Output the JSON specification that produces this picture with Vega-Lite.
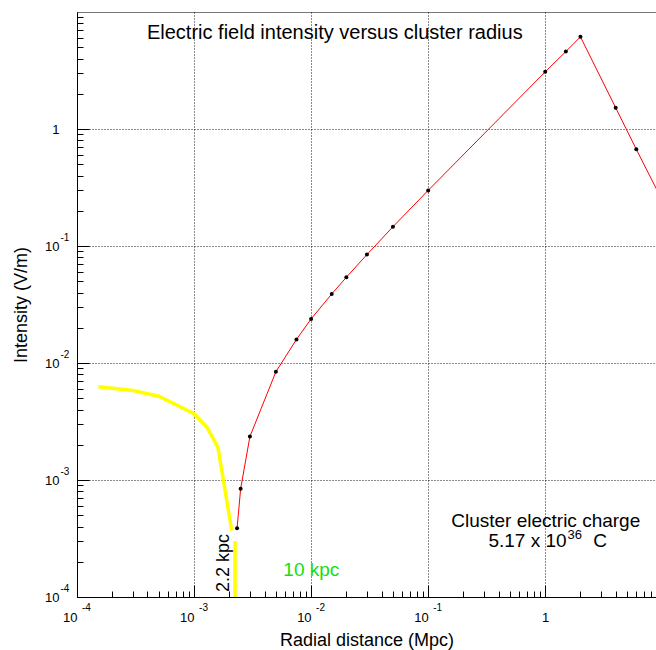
{
  "$schema": "https://vega.github.io/schema/vega-lite/v6.json",
  "autosize": {"type": "none"},
  "padding": {"left": 77, "top": 12, "right": 0, "bottom": 53},
  "width": 579,
  "height": 585,
  "background": "white",
  "config": {
    "view": {"stroke": "#777", "strokeWidth": 1},
    "font": "Liberation Sans",
    "axis": {"labelFont": "Liberation Sans", "titleFont": "Liberation Sans"}
  },
  "resolve": {"axis": {"x": "independent", "y": "independent"}},
  "datasets": {
    "red": [
      {"x": 0.00233, "y": 0.000386},
      {"x": 0.0025, "y": 0.00084},
      {"x": 0.003, "y": 0.00235},
      {"x": 0.005, "y": 0.0084},
      {"x": 0.0075, "y": 0.0159},
      {"x": 0.01, "y": 0.0238},
      {"x": 0.015, "y": 0.0389},
      {"x": 0.02, "y": 0.054},
      {"x": 0.03, "y": 0.0845},
      {"x": 0.05, "y": 0.146},
      {"x": 0.1, "y": 0.2986},
      {"x": 1, "y": 3.08},
      {"x": 1.5, "y": 4.59},
      {"x": 2, "y": 6.13},
      {"x": 4, "y": 1.52},
      {"x": 6, "y": 0.67},
      {"x": 10, "y": 0.245}
    ],
    "yellow": [
      {"x": 0.000152, "y": 0.00627},
      {"x": 0.0003, "y": 0.00582},
      {"x": 0.0005, "y": 0.0052},
      {"x": 0.001, "y": 0.00368},
      {"x": 0.0013, "y": 0.00279},
      {"x": 0.0016, "y": 0.0019},
      {"x": 0.0021, "y": 0.00037}
    ],
    "rule": [
      {"x": 0.00224, "y": 0.0001, "y2": 0.000301}
    ],
    "xexp": [
      {"x": 0.0001, "y": 0.0001, "e": "-4"},
      {"x": 0.001, "y": 0.0001, "e": "-3"},
      {"x": 0.01, "y": 0.0001, "e": "-2"},
      {"x": 0.1, "y": 0.0001, "e": "-1"}
    ],
    "yexp": [
      {"x": 0.0001, "y": 0.0001, "e": "-4"},
      {"x": 0.0001, "y": 0.001, "e": "-3"},
      {"x": 0.0001, "y": 0.01, "e": "-2"},
      {"x": 0.0001, "y": 0.1, "e": "-1"}
    ],
    "labels": [
      {"id": "title", "x": 0.01594, "y": 6.61, "text": "Electric field intensity versus cluster radius"},
      {"id": "charge1", "x": 1.01, "y": 0.000399, "text": "Cluster electric charge"},
      {"id": "charge2a", "x": 1, "y": 0.000269, "text": "5.17 x 10"},
      {"id": "charge2b", "x": 1, "y": 0.000269, "text": "36"},
      {"id": "charge2c", "x": 1, "y": 0.000269, "text": "C"},
      {"id": "kpc22", "x": 0.001795, "y": 0.000195, "text": "2.2 kpc"},
      {"id": "kpc10", "x": 0.01004, "y": 0.00017, "text": "10 kpc"}
    ]
  },
  "encoding": {
    "x": {"field": "x", "type": "quantitative", "scale": {"type": "log", "domain": [0.0001, 8.84]}, "axis": null},
    "y": {"field": "y", "type": "quantitative", "scale": {"type": "log", "domain": [0.0001, 10]}, "axis": null}
  },
  "layer": [
    {
      "data": {"name": "yellow"},
      "mark": {"type": "line", "color": "#ffff00", "strokeWidth": 3.5, "clip": true},
      "encoding": {
        "order": {"field": "x"},
        "x": {
          "field": "x", "type": "quantitative",
          "scale": {"type": "log", "domain": [0.0001, 8.84]},
          "axis": {
            "orient": "bottom",
            "title": "Radial distance (Mpc)",
            "titleFontSize": 18,
            "titleFontWeight": "normal",
            "titleColor": "black",
            "titlePadding": 7,
            "values": [0.0001, 0.001, 0.01, 0.1, 1],
            "labelExpr": "datum.value > 0.5 ? '1' : '10'",
            "labelFontSize": 13,
            "labelColor": "black",
            "labelOverlap": false,
            "labelFlush": false,
            "labelAlign": {"condition": {"test": "datum.value > 0.5", "value": "center"}, "value": "right"},
            "labelBaseline": "top",
            "labelPadding": 26,
            "tickColor": "black",
            "tickSize": -12,
            "domainColor": "black",
            "grid": true,
            "gridColor": "black",
            "gridDash": [1, 2],
            "gridOpacity": 0.9
          }
        },
        "y": {
          "field": "y", "type": "quantitative",
          "scale": {"type": "log", "domain": [0.0001, 10]},
          "axis": {
            "orient": "left",
            "title": "Intensity (V/m)",
            "titleFontSize": 18,
            "titleFontWeight": "normal",
            "titleColor": "black",
            "titlePadding": 14,
            "values": [0.0001, 0.001, 0.01, 0.1, 1],
            "labelExpr": "datum.value > 0.5 ? '1' : '10'",
            "labelFontSize": 13,
            "labelColor": "black",
            "labelOverlap": false,
            "labelFlush": false,
            "labelPadding": 30,
            "tickColor": "black",
            "tickSize": -12,
            "domainColor": "black",
            "grid": true,
            "gridColor": "black",
            "gridDash": [1, 2],
            "gridOpacity": 0.9
          }
        }
      }
    },
    {
      "data": {"name": "rule"},
      "mark": {"type": "rule", "color": "#ffff00", "strokeWidth": 3.5},
      "encoding": {
        "y2": {"field": "y2"},
        "x": {
          "field": "x", "type": "quantitative",
          "scale": {"type": "log", "domain": [0.0001, 8.84]},
          "axis": {
            "orient": "bottom",
            "title": null,
            "labels": false,
            "domain": false,
            "grid": false,
            "values": [0.0002, 0.0003, 0.0004, 0.0005, 0.0006, 0.0007, 0.0008, 0.0009,
                       0.002, 0.003, 0.004, 0.005, 0.006, 0.007, 0.008, 0.009,
                       0.02, 0.03, 0.04, 0.05, 0.06, 0.07, 0.08, 0.09,
                       0.2, 0.3, 0.4, 0.5, 0.6, 0.7, 0.8, 0.9,
                       2, 3, 4, 5, 6, 7, 8],
            "tickColor": "black",
            "tickSize": -6
          }
        },
        "y": {
          "field": "y", "type": "quantitative",
          "scale": {"type": "log", "domain": [0.0001, 10]},
          "axis": {
            "orient": "left",
            "title": null,
            "labels": false,
            "domain": false,
            "grid": false,
            "values": [0.0002, 0.0003, 0.0004, 0.0005, 0.0006, 0.0007, 0.0008, 0.0009,
                       0.002, 0.003, 0.004, 0.005, 0.006, 0.007, 0.008, 0.009,
                       0.02, 0.03, 0.04, 0.05, 0.06, 0.07, 0.08, 0.09,
                       0.2, 0.3, 0.4, 0.5, 0.6, 0.7, 0.8, 0.9,
                       2, 3, 4, 5, 6, 7, 8, 9],
            "tickColor": "black",
            "tickSize": -6
          }
        }
      }
    },
    {
      "data": {"name": "red"},
      "mark": {"type": "line", "color": "#ff0000", "strokeWidth": 1, "clip": true},
      "encoding": {"order": {"field": "x"}}
    },
    {
      "data": {"name": "red"},
      "mark": {"type": "circle", "color": "black", "opacity": 1, "size": 16, "clip": true},
      "encoding": {}
    },
    {
      "data": {"name": "xexp"},
      "mark": {"type": "text", "fontSize": 10, "color": "black", "align": "left", "baseline": "middle", "dx": 5, "dy": 11},
      "encoding": {"text": {"field": "e"}}
    },
    {
      "data": {"name": "yexp"},
      "mark": {"type": "text", "fontSize": 10, "color": "black", "align": "left", "baseline": "middle", "dx": -16.5, "dy": -8.5},
      "encoding": {"text": {"field": "e"}}
    },
    {
      "data": {"name": "labels"},
      "transform": [{"filter": "datum.id == 'title'"}],
      "mark": {"type": "text", "fontSize": 20, "color": "black", "align": "center", "baseline": "middle"},
      "encoding": {"text": {"field": "text"}}
    },
    {
      "data": {"name": "labels"},
      "transform": [{"filter": "datum.id == 'charge1'"}],
      "mark": {"type": "text", "fontSize": 19, "color": "black", "align": "center", "baseline": "alphabetic"},
      "encoding": {"text": {"field": "text"}}
    },
    {
      "data": {"name": "labels"},
      "transform": [{"filter": "datum.id == 'charge2a'"}],
      "mark": {"type": "text", "fontSize": 19, "color": "black", "align": "right", "baseline": "alphabetic", "dx": 21.4},
      "encoding": {"text": {"field": "text"}}
    },
    {
      "data": {"name": "labels"},
      "transform": [{"filter": "datum.id == 'charge2b'"}],
      "mark": {"type": "text", "fontSize": 13, "color": "black", "align": "left", "baseline": "alphabetic", "dx": 22.2, "dy": -8},
      "encoding": {"text": {"field": "text"}}
    },
    {
      "data": {"name": "labels"},
      "transform": [{"filter": "datum.id == 'charge2c'"}],
      "mark": {"type": "text", "fontSize": 19, "color": "black", "align": "left", "baseline": "alphabetic", "dx": 48},
      "encoding": {"text": {"field": "text"}}
    },
    {
      "data": {"name": "labels"},
      "transform": [{"filter": "datum.id == 'kpc22'"}],
      "mark": {"type": "text", "fontSize": 18, "color": "black", "align": "center", "baseline": "middle", "angle": 270},
      "encoding": {"text": {"field": "text"}}
    },
    {
      "data": {"name": "labels"},
      "transform": [{"filter": "datum.id == 'kpc10'"}],
      "mark": {"type": "text", "fontSize": 19, "color": "#11e011", "align": "center", "baseline": "middle"},
      "encoding": {"text": {"field": "text"}}
    }
  ]
}
